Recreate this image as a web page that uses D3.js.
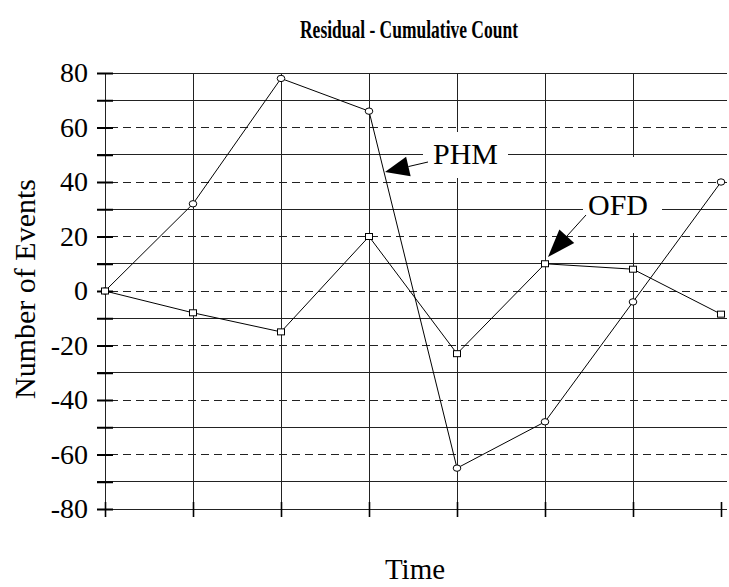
<!DOCTYPE html>
<html>
<head>
<meta charset="utf-8">
<script src="https://cdn.jsdelivr.net/npm/d3@7"></script>
<style>
  html, body { margin: 0; padding: 0; background: #fff; }
  svg { display: block; }
  svg text { font-family: "Liberation Serif", "DejaVu Serif", serif; fill: #000; }
</style>
</head>
<body>
<div id="chart"></div>
<script>
// Residual cumulative counts for two models over eight time steps
const timeSteps = [0, 1, 2, 3, 4, 5, 6, 7];
const phmValues = [0, 32, 78, 66, -65, -48, -4, 40];
const ofdValues = [0, -8, -15, 20, -23, 10, 8, -8.5];
const yTickValues = [-80, -60, -40, -20, 0, 20, 40, 60, 80];
const seriesNames = ["PHM", "OFD"];

const SERIF = "'Liberation Serif', 'DejaVu Serif', serif";
const W = 729, H = 587;
const svg = d3.select("#chart").append("svg").attr("width", W).attr("height", H);

const x = d3.scaleLinear().domain([0, 7]).range([105, 721]);
const y = d3.scaleLinear().domain([-80, 80]).range([509, 73]);
const gridEnd = 727;

// minor levels every 10 units
const levels = d3.range(-80, 81, 10);
const isDashed = v => v % 20 === 0 && Math.abs(v) !== 80;

// solid horizontal grid
svg.append("g").selectAll("line")
  .data(levels.filter(v => !isDashed(v)))
  .join("line")
  .attr("x1", 97).attr("x2", gridEnd)
  .attr("y1", d => y(d)).attr("y2", d => y(d))
  .attr("stroke", "#222").attr("stroke-width", 1)
  .attr("shape-rendering", "crispEdges");

// vertical grid (interior time steps)
svg.append("g").selectAll("line")
  .data(timeSteps.slice(0, 7))
  .join("line")
  .attr("x1", d => x(d)).attr("x2", d => x(d))
  .attr("y1", y(80)).attr("y2", 517)
  .attr("stroke", "#222").attr("stroke-width", 1)
  .attr("shape-rendering", "crispEdges");

// white panels behind the series labels
const labelBoxes = [
  { x0: 423, y0: 132, x1: 508, y1: 178 },
  { x0: 583, y0: 157, x1: 662, y1: 233 }
];
svg.append("g").selectAll("rect")
  .data(labelBoxes)
  .join("rect")
  .attr("x", d => d.x0).attr("y", d => d.y0)
  .attr("width", d => d.x1 - d.x0).attr("height", d => d.y1 - d.y0)
  .attr("fill", "#fff");

// dashed grid at the labelled levels
svg.append("g").selectAll("line")
  .data(levels.filter(isDashed))
  .join("line")
  .attr("x1", 97).attr("x2", gridEnd)
  .attr("y1", d => y(d)).attr("y2", d => y(d))
  .attr("stroke", "#222").attr("stroke-width", 1)
  .attr("stroke-dasharray", "8,5")
  .attr("shape-rendering", "crispEdges");

// y axis with labels every 20
const yAxis = d3.axisLeft(y)
  .tickValues(levels)
  .tickSize(8)
  .tickPadding(9)
  .tickFormat(d => yTickValues.includes(d) ? d : "");
const gy = svg.append("g").attr("transform", `translate(${x(0)},0)`).call(yAxis);
gy.attr("font-family", null).attr("font-size", null);
gy.select(".domain").remove();
gy.selectAll(".tick line").attr("x2", -8).attr("stroke", "#000").attr("stroke-width", 2);
gy.selectAll(".tick").append("line")
  .attr("x1", 0).attr("x2", 8).attr("stroke", "#000").attr("stroke-width", 2);
gy.selectAll(".tick text")
  .style("font-family", SERIF)
  .style("font-size", "28px").attr("fill", "#000");

// x axis ticks (no labels)
const xAxis = d3.axisBottom(x).tickValues(timeSteps).tickSize(8).tickFormat("");
const gx = svg.append("g").attr("transform", `translate(0,${y(-80)})`).call(xAxis);
gx.select(".domain").remove();
gx.selectAll(".tick line").attr("y1", -7).attr("y2", 8).attr("stroke", "#000").attr("stroke-width", 1.6);

// series lines
const line = d3.line().x((d, i) => x(timeSteps[i])).y(d => y(d));
svg.append("path").datum(phmValues).attr("d", line)
  .attr("fill", "none").attr("stroke", "#000").attr("stroke-width", 1);
svg.append("path").datum(ofdValues).attr("d", line)
  .attr("fill", "none").attr("stroke", "#000").attr("stroke-width", 1);

// markers
svg.append("g").selectAll("ellipse")
  .data(phmValues)
  .join("ellipse")
  .attr("cx", (d, i) => x(timeSteps[i])).attr("cy", d => y(d))
  .attr("rx", 3.8).attr("ry", 3.2)
  .attr("fill", "#fff").attr("stroke", "#000").attr("stroke-width", 1);
svg.append("g").selectAll("rect")
  .data(ofdValues)
  .join("rect")
  .attr("x", (d, i) => x(timeSteps[i]) - 3.5).attr("y", d => y(d) - 3)
  .attr("width", 7).attr("height", 6)
  .attr("fill", "#fff").attr("stroke", "#000").attr("stroke-width", 1);

// annotation arrows
function arrow(x0, y0, tx, ty, len, half) {
  const a = Math.atan2(ty - y0, tx - x0);
  const bx = tx - len * Math.cos(a), by = ty - len * Math.sin(a);
  const nx = -Math.sin(a) * half, ny = Math.cos(a) * half;
  svg.append("line").attr("x1", x0).attr("y1", y0).attr("x2", bx).attr("y2", by)
    .attr("stroke", "#000").attr("stroke-width", 1);
  svg.append("path")
    .attr("d", `M${tx},${ty}L${bx + nx},${by + ny}L${bx - nx},${by - ny}Z`)
    .attr("fill", "#000");
}
arrow(428, 162, 385, 172, 24, 10);
arrow(586, 215, 548, 257, 28, 10);

// series labels
svg.append("text").attr("x", 433).attr("y", 164)
  .style("font-family", SERIF).style("font-size", "30px").text(seriesNames[0]);
svg.append("text").attr("x", 588).attr("y", 215)
  .style("font-family", SERIF).style("font-size", "30px").text(seriesNames[1]);

// titles
svg.append("text").attr("x", 300).attr("y", 38)
  .attr("textLength", 218).attr("lengthAdjust", "spacingAndGlyphs")
  .style("font-family", SERIF).style("font-size", "26px").style("font-weight", "bold")
  .text("Residual - Cumulative Count");
svg.append("text").attr("x", 415).attr("y", 579).attr("text-anchor", "middle")
  .style("font-family", SERIF).style("font-size", "29px").text("Time");
svg.append("text").attr("transform", "translate(35,289) rotate(-90)")
  .attr("text-anchor", "middle")
  .style("font-family", SERIF).style("font-size", "30px").text("Number of Events");
</script>
</body>
</html>
